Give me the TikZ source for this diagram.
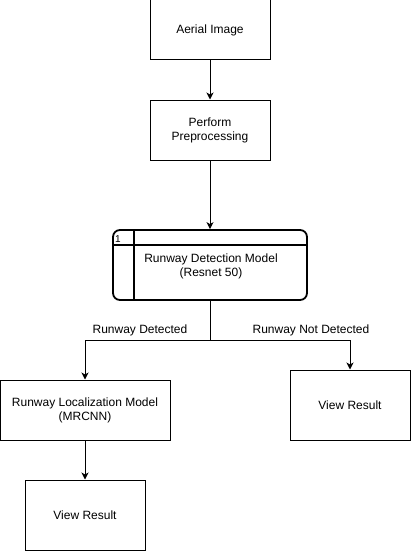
\documentclass[tikz,border=0pt]{standalone}
\usepackage{fontspec}
\setmainfont{Liberation Sans}
\usetikzlibrary{arrows.meta}
\begin{document}
\begin{tikzpicture}[x=1pt,y=-1pt,
  box/.style={draw, line width=1pt, minimum width=#1, inner sep=2pt, align=center, font=\fontsize{12}{14}\selectfont},
  flow/.style={line width=1pt, -{Stealth[length=7pt,width=7pt,inset=2pt]}},
  lab/.style={font=\fontsize{12}{14}\selectfont, inner sep=1pt}]
\useasboundingbox[fill=white] (0,0) rectangle (411,551);
\node[box=120, minimum height=60] (aerial) at (210,30) {Aerial Image};
\node[box=120, minimum height=60] (pre) at (210,130) {Perform\\Preprocessing};
\node[box=194, minimum height=70, rounded corners=7pt, line width=1.8pt] (det) at (210,265) {};
\node[align=center, font=\fontsize{12}{14}\selectfont, inner sep=0pt] (dettext) at (211,266) {Runway Detection Model\\(Resnet 50)};
\draw[line width=1.8pt] (det.north west |- 0,245) -- (det.north east |- 0,245);
\draw[line width=1.8pt] (134,230) -- (134,300);
\node[font=\fontsize{10}{12}\selectfont, inner sep=0pt] (one) at (118,239) {1};
\node[box=170, minimum height=60] (loc) at (85,410) {Runway Localization Model\\(MRCNN)};
\node[box=120, minimum height=70] (vr1) at (350,405) {View Result};
\node[box=120, minimum height=70] (vr2) at (85,515) {View Result};
\coordinate (split) at (210,340);
\draw[flow] (aerial) -- (pre);
\draw[flow] (pre) -- (det);
\draw[line width=1pt] (det.south) -- (split);
\draw[flow] (split) -| (loc.north);
\draw[flow] (split) -| (vr1.north);
\draw[flow] (loc) -- (vr2);
\node[lab] (ld) at (140,330.5) {Runway Detected};
\node[lab] (lnd) at (311,330.5) {Runway Not Detected};
\end{tikzpicture}
\end{document}
